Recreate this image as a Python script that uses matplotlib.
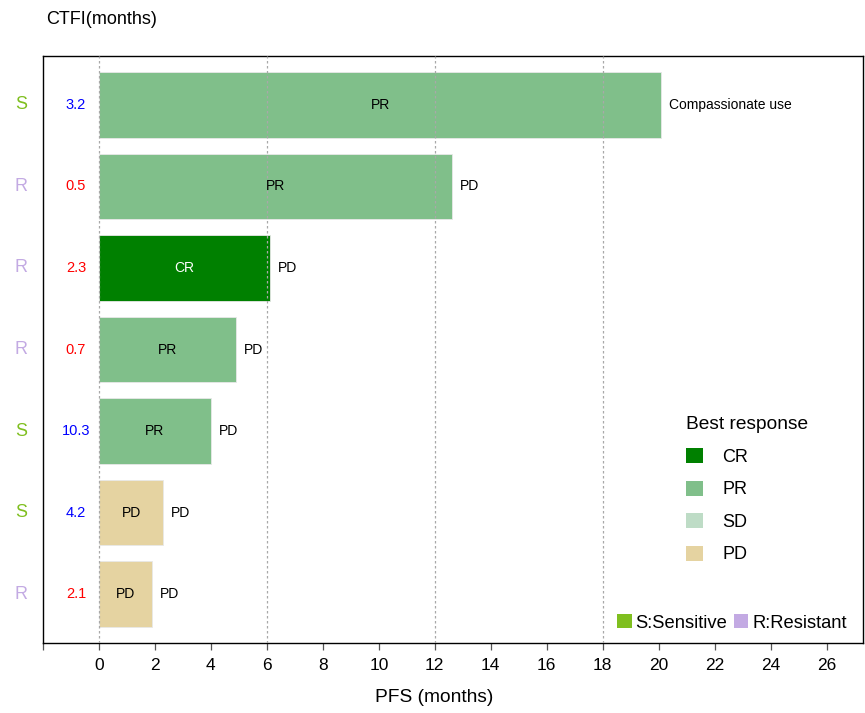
import numpy as np
import matplotlib
matplotlib.use("Agg")
import matplotlib.pyplot as plt
from matplotlib.patches import Patch

plt.rcParams["font.family"] = ["Liberation Sans", "DejaVu Sans"]

# one row per patient, top to bottom
sensitivity = ["S", "R", "R", "R", "S", "S", "R"]
ctfi = [3.2, 0.5, 2.3, 0.7, 10.3, 4.2, 2.1]
pfs = [20.1, 12.6, 6.1, 4.9, 4.0, 2.3, 1.9]
best_response = ["PR", "PR", "CR", "PR", "PR", "PD", "PD"]
end_status = ["Compassionate use", "PD", "PD", "PD", "PD", "PD", "PD"]

response_colors = {"CR": "#008000", "PR": "#80BF8A", "SD": "#BEDCC6", "PD": "#E5D3A1"}
sens_colors = {"S": "#7FBF1F", "R": "#C3AAE3"}
ctfi_colors = {"S": "#0000FF", "R": "#FF0000"}

fig = plt.figure(figsize=(8.65, 7.13), dpi=100)
ax = fig.add_axes([43 / 865, 70 / 713, 820 / 865, 587 / 713])

n = len(pfs)
ypos = np.arange(n)[::-1] + 1

ax.barh(ypos, pfs, height=0.8, left=0,
        color=[response_colors[r] for r in best_response],
        edgecolor="#E8E8E8", linewidth=0.6, zorder=2)

for x in [0, 6, 12, 18]:
    ax.axvline(x, color="#A8A8A8", linestyle=(0, (2, 2)), linewidth=0.9, zorder=3)

for y, s, c, p, r, e in zip(ypos, sensitivity, ctfi, pfs, best_response, end_status):
    ax.text(p / 2, y, r, ha="center", va="center", fontsize=10,
            color="white" if r == "CR" else "black", zorder=4)
    ax.text(p + 0.28, y, e, ha="left", va="center", fontsize=10, zorder=4)
    ax.text(-0.82, y, f"{c}", ha="center", va="center", fontsize=10.5,
            color=ctfi_colors[s], clip_on=False)
    ax.text(-2.79, y, s, ha="center", va="center", fontsize=13,
            color=sens_colors[s], clip_on=False)

ax.set_xlim(-2, 27.3)
ax.set_ylim(0.4, n + 0.6)
ticks = np.arange(-2, 27, 2)
ax.set_xticks(ticks)
ax.set_xticklabels(["" if t < 0 else str(t) for t in ticks])
ax.tick_params(axis="x", length=5, width=0.9, color="#555555", labelsize=12.5, pad=6)
ax.set_yticks([])
for sp in ax.spines.values():
    sp.set_linewidth(1.0)
    sp.set_color("black")

# best response legend
resp_handles = [Patch(facecolor=response_colors[k], edgecolor="none", label=k)
                for k in ["CR", "PR", "SD", "PD"]]
leg1 = ax.legend(handles=resp_handles, title="Best response", loc="upper left",
                 bbox_to_anchor=(627 / 820, (643 - 400) / 587), frameon=False,
                 fontsize=13, title_fontsize=13.8, handlelength=0.9, handleheight=0.9,
                 handletextpad=1.1, labelspacing=0.82, alignment="left")
ax.add_artist(leg1)

sens_handles = [Patch(facecolor=sens_colors["S"], edgecolor="none", label="S:Sensitive"),
                Patch(facecolor=sens_colors["R"], edgecolor="none", label="R:Resistant")]
ax.legend(handles=sens_handles, loc="lower right", bbox_to_anchor=(1.0, -5 / 587),
          ncol=2, frameon=False, fontsize=13.2, handlelength=0.8, handleheight=0.8,
          handletextpad=0.2, columnspacing=0.35, borderaxespad=0.5)

fig.text(46 / 865, 1 - 19 / 713, "CTFI(months)", fontsize=13, ha="left", va="center")
fig.text(434 / 865, 1 - 697 / 713, "PFS (months)", fontsize=13.8, ha="center", va="center")

fig.savefig("out.png", dpi=100)
